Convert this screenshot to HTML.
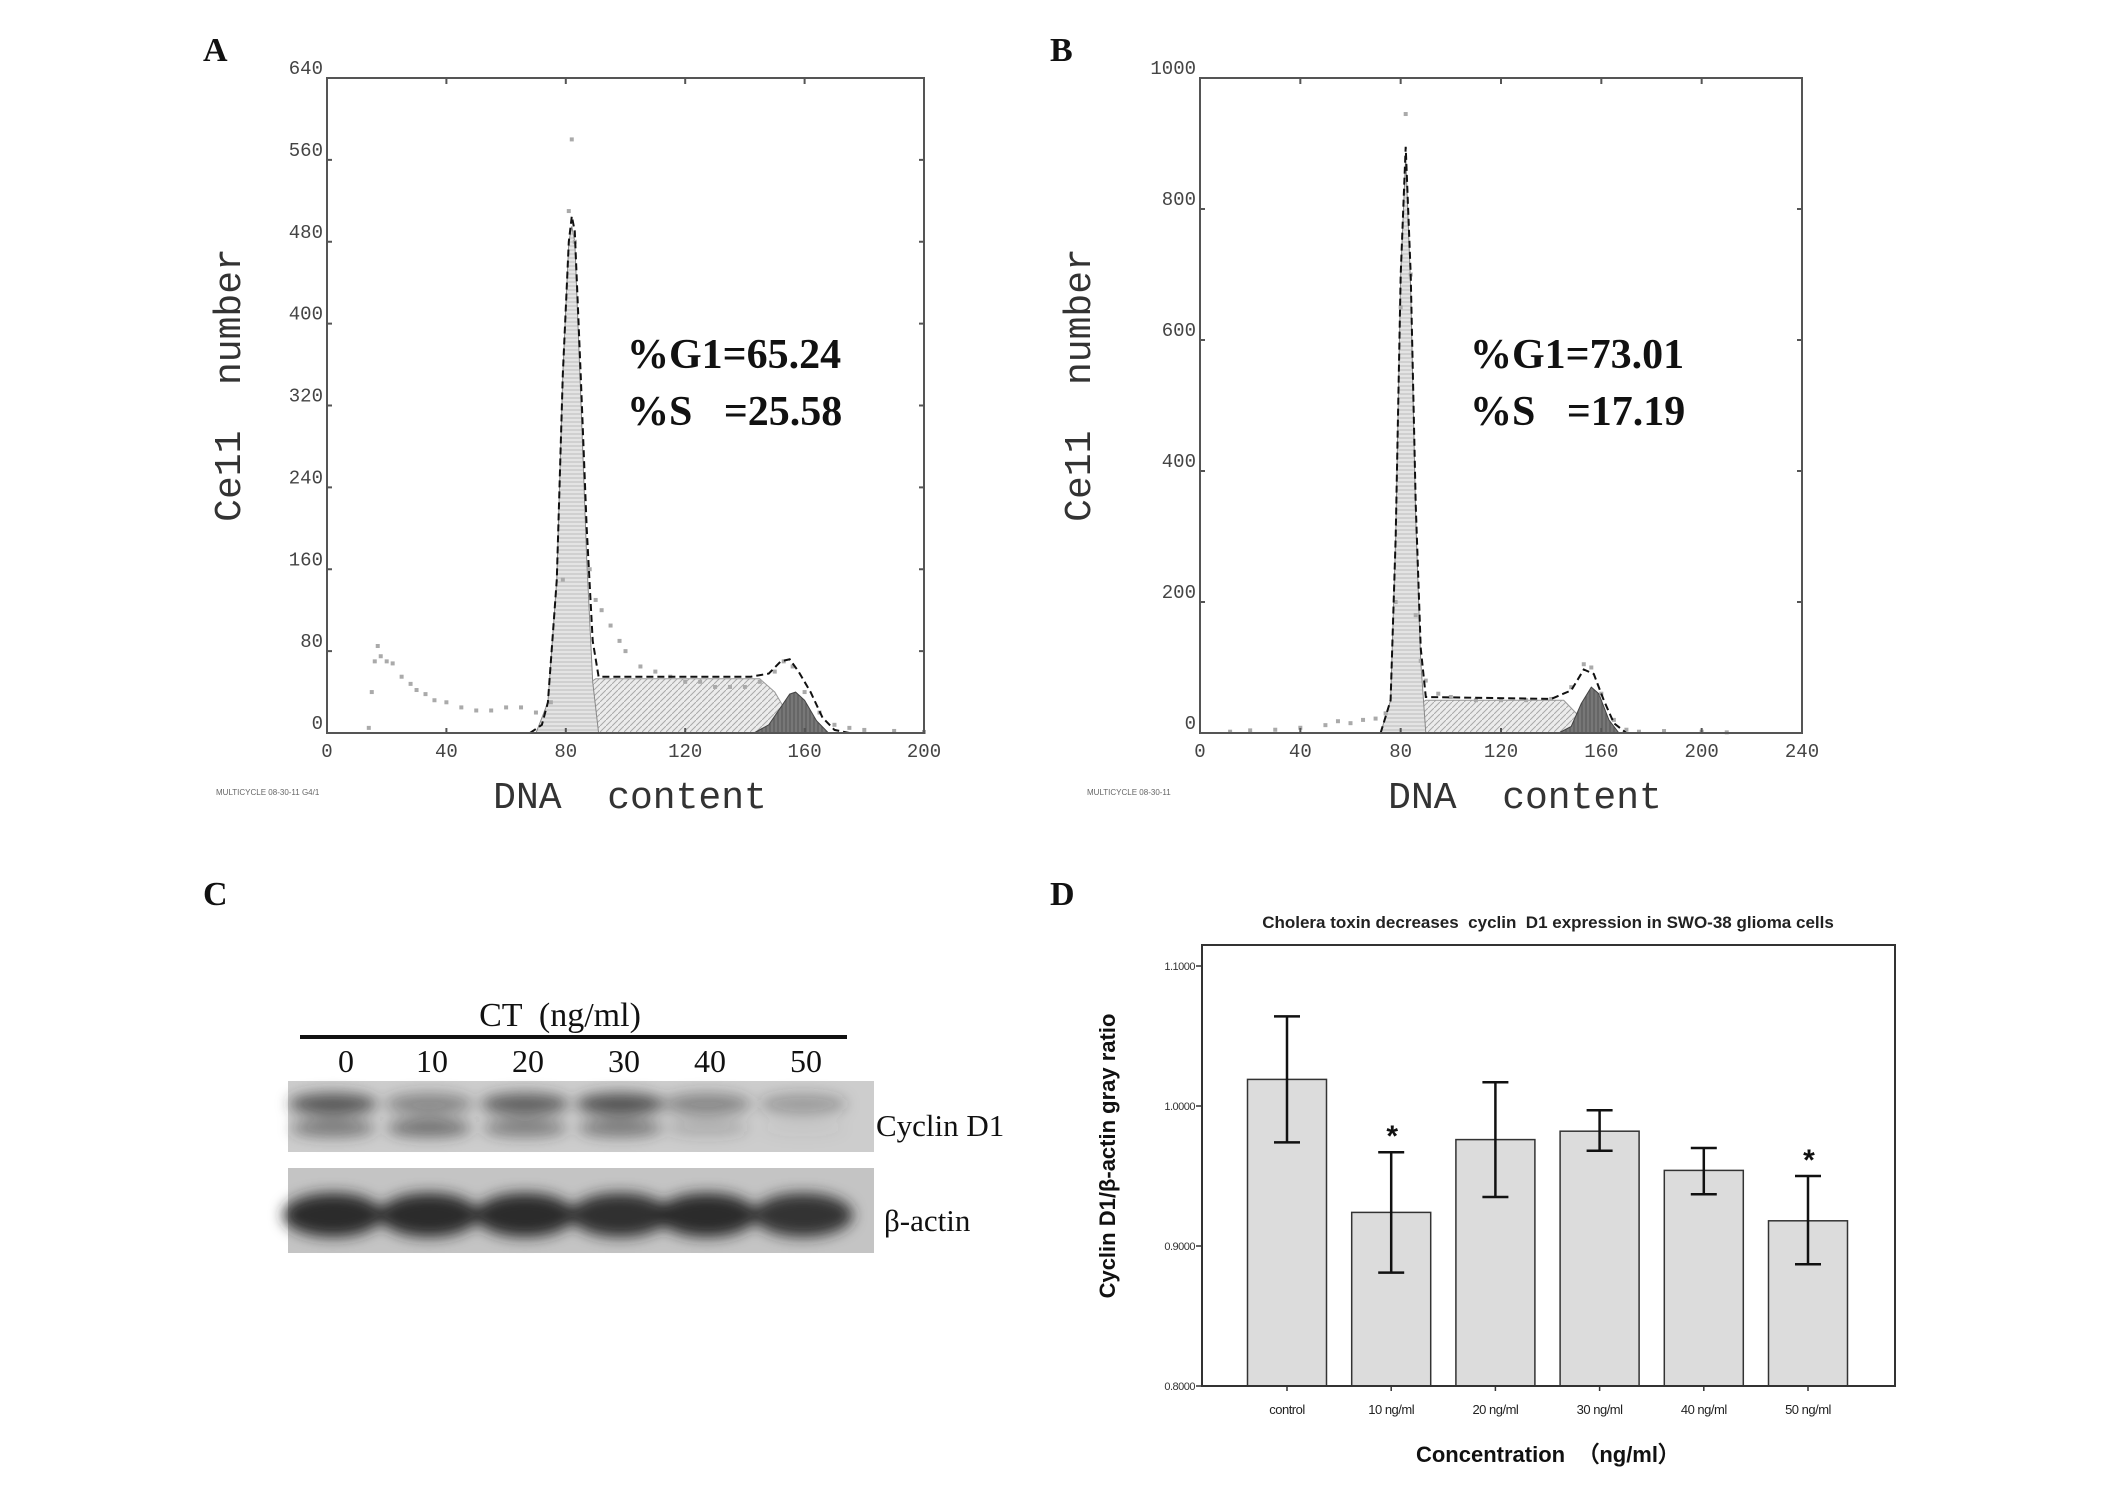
<!DOCTYPE html>
<html><head><meta charset="utf-8"><style>
html,body{margin:0;padding:0;background:#fff}
svg{display:block}
.tick{font-family:"Liberation Mono",monospace;font-size:19px;fill:#444}
.big{font-family:"Liberation Serif",serif;font-weight:bold;font-size:42px;fill:#111;white-space:pre}
.lbl{font-family:"Liberation Serif",serif;font-weight:bold;font-size:34px;fill:#111}
.axt{font-family:"Liberation Mono",monospace;font-size:38px;fill:#333;white-space:pre}
.sans{font-family:"Liberation Sans",sans-serif}
</style></head><body>
<svg id="fig" width="2126" height="1494" viewBox="0 0 2126 1494" xmlns="http://www.w3.org/2000/svg">
<defs>
<pattern id="hG1" width="4" height="4" patternUnits="userSpaceOnUse"><rect width="4" height="4" fill="#e4e4e4"/><path d="M0 2H4" stroke="#bbb" stroke-width="1"/></pattern>
<pattern id="hS" width="6" height="6" patternUnits="userSpaceOnUse"><rect width="6" height="6" fill="#ececec"/><path d="M0 6L6 0" stroke="#aaa" stroke-width="1"/></pattern>
<pattern id="hG2" width="4" height="4" patternUnits="userSpaceOnUse"><rect width="4" height="4" fill="#777"/><path d="M2 0V4" stroke="#555" stroke-width="1"/></pattern>
<filter id="blur" x="-20%" y="-50%" width="140%" height="200%"><feGaussianBlur stdDeviation="7"/></filter>
</defs>
<text class="lbl" x="203" y="61">A</text>
<text class="lbl" x="1050" y="61">B</text>
<text class="lbl" x="203" y="905">C</text>
<text class="lbl" x="1050" y="905">D</text>
<g id="pA"></g>
<g id="pB"></g>
<g id="pC"></g>
<g id="pD"></g>
</svg>
<script>
// ---- Panel A data ----
const aDotsX=[14,15,16,17,18,20,22,25,28,30,33,36,40,45,50,55,60,65,70,75,79,81,82,83,88,90,92,95,98,100,105,110,115,120,125,130,135,140,145,150,153,156,160,165,170,175,180,190,200];
const aDotsY=[5,40,70,85,75,70,68,55,48,42,38,32,30,25,22,22,25,25,20,30,150,510,580,480,160,130,120,105,90,80,65,60,55,50,50,45,45,45,50,60,70,65,40,20,8,5,3,2,1];
const aFitX=[68,72,74,77,79,81,82,83,85,87,89,91,94,100,120,142,148,152,155,158,162,166,170,175];
const aFitY=[0,8,30,150,350,480,505,490,350,200,90,55,55,55,55,55,58,70,72,60,40,15,3,0];
const aG1X=[70,74,77,79,81,82,83,85,87,89,91];
const aG1Y=[0,30,150,350,480,495,480,330,170,50,0];
const aSX=[78,82,86,90,145,150,155,160];
const aSY=[0,20,45,53,53,40,15,0];
const aG2X=[143,148,152,155,157,160,164,168];
const aG2Y=[0,8,25,38,40,32,12,0];
const aYTicks=[0,80,160,240,320,400,480,560,640];
const aXTicks=[0,40,80,120,160,200];
// ---- Panel B data ----
const bDotsX=[12,20,30,40,50,55,60,65,70,74,78,80,82,84,86,88,90,95,100,110,120,130,140,148,153,156,160,165,170,175,185,200,210];
const bDotsY=[2,4,5,8,12,18,15,20,22,30,200,650,945,700,180,110,80,60,55,50,50,50,52,70,105,100,60,20,5,2,3,2,1];
const bFitX=[72,76,78,80,82,84,86,88,90,140,148,153,157,161,165,170];
const bFitY=[0,50,300,700,895,700,350,130,55,52,65,97,90,50,15,0];
const bG1X=[72,76,78,80,82,84,86,88,90];
const bG1Y=[0,50,300,700,880,680,330,110,0];
const bSX=[80,84,88,90,145,150,155,160];
const bSY=[0,20,45,50,50,30,10,0];
const bG2X=[143,148,152,156,159,163,167];
const bG2Y=[0,10,45,70,60,20,0];
const bYTicks=[0,200,400,600,800,1000];
const bXTicks=[0,40,80,120,160,200,240];
// ---- Panel D data ----
const dCats=["control","10 ng/ml","20 ng/ml","30 ng/ml","40 ng/ml","50 ng/ml"];
const dMeans=[1.019,0.924,0.976,0.982,0.954,0.918];
const dHi=[1.064,0.967,1.017,0.997,0.970,0.950];
const dLo=[0.974,0.881,0.935,0.968,0.937,0.887];
const dStar=[false,true,false,false,false,true];
const dYTicks=["0.8000","0.9000","1.0000","1.1000"];
// ---- Panel C data ----
const cLanes=["0","10","20","30","40","50"];
const cCyclinUpper=[0.75,0.45,0.7,0.8,0.45,0.3];
const cCyclinLower=[0.55,0.6,0.5,0.55,0.2,0.05];
const cActin=[0.95,0.95,0.95,0.92,0.95,0.9];

const NS="http://www.w3.org/2000/svg";
function mk(p,tag,at,txt){const e=document.createElementNS(NS,tag);for(const k in at)e.setAttribute(k,at[k]);if(txt!==undefined)e.textContent=txt;p.appendChild(e);return e;}

function hist(gid,cfg){
  const g=document.getElementById(gid);
  const sx=v=>cfg.L+(v-cfg.xMin)/(cfg.xMax-cfg.xMin)*(cfg.R-cfg.L);
  const sy=v=>cfg.B-(v/cfg.yMax)*(cfg.B-cfg.T);
  const poly=(xs,ys)=>xs.map((x,i)=>sx(x).toFixed(1)+","+sy(ys[i]).toFixed(1)).join(" ");
  let e;
  e=mk(g,"polygon",{points:poly(cfg.sX,cfg.sY),fill:"url(#hS)",stroke:"#999","stroke-width":1});
  
  
  e=mk(g,"polygon",{points:poly(cfg.g1X,cfg.g1Y),fill:"url(#hG1)",stroke:"#888","stroke-width":1});
  
  
  e=mk(g,"polygon",{points:poly(cfg.g2X,cfg.g2Y),fill:"url(#hG2)",stroke:"#444","stroke-width":1});
  
  
  cfg.dX.forEach((x,i)=>{
    const c=mk(g,"rect",{x:sx(x)-2,y:sy(cfg.dY[i])-2,width:4,height:4,fill:"#aaa"});
    
    
  });
  e=mk(g,"polyline",{points:poly(cfg.fX,cfg.fY),fill:"none",stroke:"#111","stroke-width":2,"stroke-dasharray":"7,4"});
  
  
  e=mk(g,"rect",{x:cfg.L,y:cfg.T,width:cfg.R-cfg.L,height:cfg.B-cfg.T,fill:"none",stroke:"#555","stroke-width":2});
  
  
  cfg.yt.forEach(v=>{
    const y=sy(v);
    mk(g,"line",{x1:cfg.L,x2:cfg.L+5,y1:y,y2:y,stroke:"#555","stroke-width":2});
    mk(g,"line",{x1:cfg.R-5,x2:cfg.R,y1:y,y2:y,stroke:"#555","stroke-width":2});
    const t=mk(g,"text",{class:"tick",x:cfg.L-4,y:y-4,"text-anchor":"end"},String(v));
    
    
  });
  cfg.xt.forEach(v=>{
    const x=sx(v);
    mk(g,"line",{x1:x,x2:x,y1:cfg.T,y2:cfg.T+6,stroke:"#555","stroke-width":2});
    mk(g,"line",{x1:x,x2:x,y1:cfg.B-5,y2:cfg.B,stroke:"#555","stroke-width":2});
    const t=mk(g,"text",{class:"tick",x:x,y:cfg.B+24,"text-anchor":"middle"},String(v));
    
    
  });
  e=mk(g,"text",{class:"axt",x:cfg.xtx,y:cfg.B+75,"text-anchor":"middle"},"DNA  content");
  
  
  e=mk(g,"text",{class:"axt",x:0,y:0,"text-anchor":"middle",transform:`translate(${cfg.ytx},385) rotate(-90)`},"Ce11  number");
  
  
  e=mk(g,"text",{class:"big",x:cfg.tx,y:368},cfg.t1);
  
  
  e=mk(g,"text",{class:"big",x:cfg.tx,y:425},cfg.t2);
  
  
  e=mk(g,"text",{x:cfg.mx,y:795,"font-family":"Liberation Sans,sans-serif","font-size":"8px",fill:"#666"},cfg.mt);
  
  
}
hist("pA",{L:327,R:924,T:78,B:733,xMin:0,xMax:200,yMax:640,dX:aDotsX,dY:aDotsY,fX:aFitX,fY:aFitY,g1X:aG1X,g1Y:aG1Y,sX:aSX,sY:aSY,g2X:aG2X,g2Y:aG2Y,yt:aYTicks,xt:aXTicks,xtx:630,ytx:240,tx:627,t1:"%G1=65.24",t2:"%S   =25.58",mx:216,mt:"MULTICYCLE 08-30-11 G4/1"});
hist("pB",{L:1200,R:1802,T:78,B:733,xMin:0,xMax:240,yMax:1000,dX:bDotsX,dY:bDotsY,fX:bFitX,fY:bFitY,g1X:bG1X,g1Y:bG1Y,sX:bSX,sY:bSY,g2X:bG2X,g2Y:bG2Y,yt:bYTicks,xt:bXTicks,xtx:1525,ytx:1090,tx:1470,t1:"%G1=73.01",t2:"%S   =17.19",mx:1087,mt:"MULTICYCLE 08-30-11"});

// ---- Panel C ----
(function(){
  const g=document.getElementById("pC");
  const nx=[346,432,528,624,710,806];
  let e=mk(g,"text",{x:560,y:1026,"text-anchor":"middle","font-family":"Liberation Serif,serif","font-size":"34px",fill:"#111",style:"white-space:pre"},"CT  (ng/ml)");
  
  
  e=mk(g,"line",{x1:300,x2:847,y1:1037,y2:1037,stroke:"#111","stroke-width":4});
  
  
  cLanes.forEach((t,i)=>{
    const n=mk(g,"text",{x:nx[i],y:1072,"text-anchor":"middle","font-family":"Liberation Serif,serif","font-size":"32px",fill:"#111"},t);
    
    
  });
  e=mk(g,"rect",{x:288,y:1081,width:586,height:71,fill:"#cdcdcd"});
  
  
  e=mk(g,"rect",{x:288,y:1168,width:586,height:85,fill:"#c4c4c4"});
  
  
  const cx=[333,429,525,620,707,803];
  const bg=mk(g,"g",{filter:"url(#blur)"});
  cLanes.forEach((t,i)=>{
    let b=mk(bg,"ellipse",{cx:cx[i],cy:1104,rx:44,ry:11,fill:"#333","fill-opacity":cCyclinUpper[i]});
    
    
    b=mk(bg,"ellipse",{cx:cx[i],cy:1128,rx:42,ry:9,fill:"#333","fill-opacity":cCyclinLower[i]});
    
    
    b=mk(bg,"ellipse",{cx:cx[i],cy:1215,rx:50,ry:22,fill:"#222","fill-opacity":cActin[i]});
    
    
  });
  e=mk(g,"text",{x:876,y:1136,"font-family":"Liberation Serif,serif","font-size":"31px",fill:"#111"},"Cyclin D1");
  
  
  e=mk(g,"text",{x:884,y:1231,"font-family":"Liberation Serif,serif","font-size":"31px",fill:"#111"},"β-actin");
  
  
})();

// ---- Panel D ----
(function(){
  const g=document.getElementById("pD");
  const L=1202,R=1895,T=945,B=1386;
  const y0=1386,y1=966;
  const sy=v=>y0-(v-0.8)/0.3*(y0-y1);
  const bx=i=>1287+i*104.2;
  let e=mk(g,"text",{x:1548,y:928,"text-anchor":"middle",class:"sans","font-size":"17px","font-weight":"bold",fill:"#222",style:"white-space:pre"},"Cholera toxin decreases  cyclin  D1 expression in SWO-38 glioma cells");
  
  
  dCats.forEach((c,i)=>{
    const x=bx(i);
    const b=mk(g,"rect",{x:x-39.5,y:sy(dMeans[i]),width:79,height:B-sy(dMeans[i]),fill:"#dcdcdc",stroke:"#333","stroke-width":1.5});
    
    
    const eb=mk(g,"path",{d:`M${x},${sy(dHi[i])}V${sy(dLo[i])}M${x-13},${sy(dHi[i])}H${x+13}M${x-13},${sy(dLo[i])}H${x+13}`,stroke:"#111","stroke-width":2.5,fill:"none"});
    
    
    if(dStar[i]){
      const s=mk(g,"text",{x:x+1,y:sy(dHi[i])-6,"text-anchor":"middle",class:"sans","font-size":"30px","font-weight":"bold",fill:"#111"},"*");
      
      
    }
    mk(g,"line",{x1:x,x2:x,y1:B,y2:B+5,stroke:"#333","stroke-width":1.5});
    const t=mk(g,"text",{x:x,y:1414,"text-anchor":"middle",class:"sans","font-size":"13px",fill:"#222","letter-spacing":"-0.5"},c);
    
    
  });
  dYTicks.forEach(v=>{
    const y=sy(parseFloat(v));
    mk(g,"line",{x1:L-6,x2:L,y1:y,y2:y,stroke:"#333","stroke-width":1.5});
    const t=mk(g,"text",{x:L-7,y:y+4,"text-anchor":"end",class:"sans","font-size":"11px",fill:"#333","letter-spacing":"-0.5"},v);
    
    
  });
  e=mk(g,"rect",{x:L,y:T,width:R-L,height:B-T,fill:"none",stroke:"#333","stroke-width":2});
  
  
  e=mk(g,"text",{x:1548,y:1462,"text-anchor":"middle",class:"sans","font-size":"22px","font-weight":"bold",fill:"#111",style:"white-space:pre"},"Concentration  （ng/ml）");
  
  
  e=mk(g,"text",{x:0,y:0,"text-anchor":"middle",class:"sans","font-size":"22px","font-weight":"bold",fill:"#111",transform:"translate(1115,1156) rotate(-90)"},"Cyclin  D1/β-actin gray ratio");
  
  
})();
</script>
</body></html>
